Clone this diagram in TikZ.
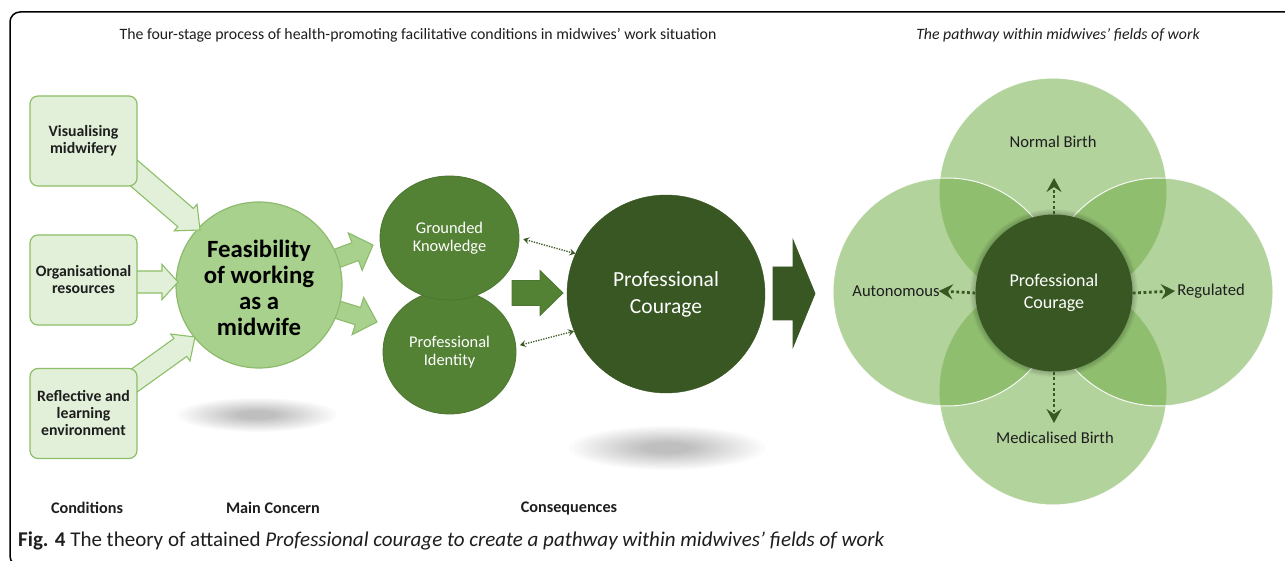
\documentclass[tikz,border=0pt]{standalone}
\usepackage{fontspec}
\setmainfont{Carlito}
\usetikzlibrary{calc,arrows.meta,shapes.geometric}

\definecolor{lightfill}{HTML}{E2F0D9}
\definecolor{lightedge}{HTML}{8CBF68}
\definecolor{midfill}{HTML}{A9D18E}
\definecolor{midedge}{HTML}{8DBB6C}
\definecolor{darkfill}{HTML}{548235}
\definecolor{darkedge}{HTML}{4B7530}
\definecolor{deepfill}{HTML}{385723}
\definecolor{vennfill}{HTML}{70AD47}
\definecolor{inktext}{HTML}{1E1E1E}

\newcommand{\fs}[2]{\fontsize{#1}{#2}\selectfont}

% block arrow from a tail coordinate to a tip coordinate:
% #1 style, #2 tail, #3 tip, #4 shaft half-width, #5 head half-width, #6 head length
\newcommand{\blockarrow}[6]{%
  \path[#1] let \p1=(#2), \p2=(#3), \n1={atan2(\y2-\y1,\x2-\x1)} in
    ($(\p1)+(\n1+90:#4pt)$)
    -- ($(\p2)+(\n1+180:#6pt)+(\n1+90:#4pt)$)
    -- ($(\p2)+(\n1+180:#6pt)+(\n1+90:#5pt)$)
    -- (\p2)
    -- ($(\p2)+(\n1+180:#6pt)+(\n1-90:#5pt)$)
    -- ($(\p2)+(\n1+180:#6pt)+(\n1-90:#4pt)$)
    -- ($(\p1)+(\n1-90:#4pt)$) -- cycle;}

% soft grey shadow built from stacked translucent ellipses: x, y, rx, ry
\newcommand{\softshadow}[4]{%
  \foreach \k in {0,...,15}{%
    \pgfmathsetmacro\f{1-\k*0.05}%
    \fill[black,opacity=0.017] (#1,#2) ellipse ({#3*\f pt} and {#4*\f pt});
  }}

\tikzset{
  condbox/.style={rectangle, rounded corners=8pt, minimum width=107pt, minimum height=90pt,
    fill=lightfill, draw=lightedge, line width=1.2pt, align=center, text=inktext,
    font=\fs{15.8}{17}\bfseries},
  lightarrow/.style={fill=lightfill, draw=lightedge, line width=1.1pt, line join=miter},
  midarrow/.style={fill=midfill, draw=midedge, line width=1.1pt, line join=miter},
  darkarrow/.style={fill=darkfill, draw=darkedge, line width=0.8pt},
  deeparrow/.style={fill=deepfill, draw=deepfill, line width=0.8pt},
  whitetext/.style={text=white, align=center},
  venncircle/.style={circle, minimum size=228pt, inner sep=0pt, fill=vennfill,
    fill opacity=0.53, draw=white, draw opacity=0.9, line width=1pt},
  vennlabel/.style={inner sep=0pt, text=inktext, font=\fs{16.6}{18}},
  smalldots/.style={deepfill, line width=1.3pt, dash pattern=on 1.3pt off 1.3pt,
    {Stealth[length=6pt,width=7pt,inset=2.5pt]}-{Stealth[length=6pt,width=7pt,inset=2.5pt]}},
  bigdots/.style={deepfill, line width=2.8pt, dash pattern=on 2.8pt off 2.6pt,
    -{Stealth[length=14pt,width=15pt,inset=5pt]}},
  stagelabel/.style={text=inktext, font=\fs{16.2}{18}\bfseries},
}

\begin{document}
\begin{tikzpicture}[x=1pt,y=-1pt]
\useasboundingbox (0,0) rectangle (1285,561);
\fill[white] (0,0) rectangle (1285,561);
\clip (0,0) rectangle (1285,561);

% outer frame, open to the right and below
\draw[line width=1.5pt, rounded corners=10pt] (1300,12) -- (10,12) -- (10,566) -- (40,566);

% headings
\node[text=inktext, font=\fs{15.8}{17}] (title) at (418,35)
  {The four-stage process of health-promoting facilitative conditions in midwives’ work situation};
\node[text=inktext, font=\fs{15.8}{17}\itshape] (pathtitle) at (1058,35)
  {The pathway within midwives’ fields of work};

% shadows
\softshadow{257}{415}{80}{17}
\softshadow{667}{448}{98}{22}

% arrows leaving the main concern
\coordinate (a4t) at (330,261); \coordinate (a4h) at (373,245);
\coordinate (a5t) at (332,308); \coordinate (a5h) at (377,322);
\blockarrow{midarrow}{a4t}{a4h}{9.5}{20}{19}
\blockarrow{midarrow}{a5t}{a5h}{9}{19.5}{20}

% main concern
\node[circle, minimum size=166pt, inner sep=0pt, fill=midfill, draw=midedge, line width=1.2pt]
  (feas) at (259,285) {};
\node[align=center, inner sep=0pt, text=black, font=\fs{24.8}{26}\bfseries] (feastext)
  at (259,288) {Feasibility\\of working\\as a\\midwife};

% arrows from the conditions
\coordinate (a1t) at (128,168); \coordinate (a1h) at (200,230);
\coordinate (a2t) at (130,282); \coordinate (a2h) at (178,282);
\coordinate (a3t) at (128,385); \coordinate (a3h) at (195,337);
\blockarrow{lightarrow}{a1t}{a1h}{12}{17.5}{19}
\blockarrow{lightarrow}{a2t}{a2h}{11}{17.5}{16}
\blockarrow{lightarrow}{a3t}{a3h}{11}{16.5}{18}

% conditions
\node[condbox] (vis) at (83.5,141) {Visualising\\midwifery};
\node[condbox] (org) at (83.5,280) {Organisational\\resources};
\node[condbox] (refl) at (83.5,413.5) {Reflective and\\learning\\environment};

% consequences
\node[ellipse, minimum width=133pt, minimum height=124pt, inner sep=0pt, fill=darkfill,
  draw=darkedge, line width=0.8pt, whitetext, font=\fs{16.4}{17.5}] (pid) at (449.5,352)
  {Professional\\Identity};
\node[ellipse, minimum width=139pt, minimum height=124pt, inner sep=0pt, fill=darkfill,
  draw=darkedge, line width=0.8pt, whitetext, font=\fs{16.4}{17.5}] (gk) at (449.5,238)
  {Grounded\\Knowledge};

\coordinate (a6t) at (512,293); \coordinate (a6h) at (563,293);
\blockarrow{darkarrow}{a6t}{a6h}{12.5}{22.5}{23}

\node[circle, minimum size=198pt, inner sep=0pt, fill=deepfill, draw=deepfill,
  whitetext, font=\fs{21.5}{27}] (pc) at (666,294) {Professional\\Courage};

\draw[smalldots, shorten <=4pt] (gk.east) -- (pc.156);
\draw[smalldots, shorten <=4pt] (pid.5) -- (pc.202);

\coordinate (a7t) at (773,293.5); \coordinate (a7h) at (815,293.5);
\blockarrow{deeparrow}{a7t}{a7h}{26.5}{53.5}{22}

% fields of work
\node[venncircle] (vtop) at (1053,192) {};
\node[venncircle] (vbot) at (1053,391) {};
\node[venncircle] (vleft) at (947,292) {};
\node[venncircle] (vright) at (1159,292) {};

\foreach \r in {79,80,...,84}{
  \fill[black, opacity=0.035] (1054,293) circle (\r pt);
}
\node[circle, minimum size=157pt, inner sep=0pt, fill=deepfill, whitetext,
  font=\fs{18}{22}] (vc) at (1054,293) {Professional\\Courage};

\node[vennlabel] (nb) at (1053,142) {Normal Birth};
\node[vennlabel] (med) at (1055,438) {Medicalised Birth};
\node[vennlabel] (auto) at (896,291) {Autonomous};
\node[vennlabel] (reg) at (1211,291) {Regulated};

\coordinate (nbtip) at (1054,178);
\coordinate (medtip) at (1054,423);
\draw[bigdots] (vc.north) -- (nbtip);
\draw[bigdots] (vc.south) -- (medtip);
\draw[bigdots] (vc.west) -- ([xshift=-1pt]auto.east);
\draw[bigdots] (vc.east) -- ([xshift=-2pt]reg.west);

% stage labels
\node[stagelabel] (lcond) at (87,508) {Conditions};
\node[stagelabel] (lmain) at (273,508) {Main Concern};
\node[stagelabel] (lcons) at (569,508) {Consequences};

% caption
\node[anchor=west, inner sep=0pt, text=inktext, font=\fs{21}{23}] (caption) at (18,541)
  {\textbf{Fig. 4} The theory of attained \textit{Professional courage to create a pathway within midwives’ fields of work}};
\end{tikzpicture}
\end{document}
